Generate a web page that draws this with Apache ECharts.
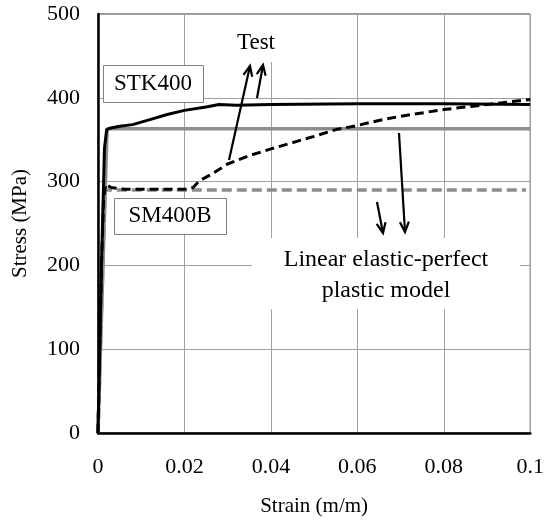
<!DOCTYPE html>
<html>
<head>
<meta charset="utf-8">
<script src="https://cdn.jsdelivr.net/npm/echarts@6/dist/echarts.min.js"></script>
<style>
html,body{margin:0;padding:0;background:#fff;}
#c{width:547px;height:522px;}
</style>
</head>
<body>
<div id="c"></div>
<script>
// Data (strain m/m, stress MPa)
const stkTest = [[0,0],[0.0008,200],[0.0015,340],[0.002,362],[0.003,364],[0.005,366],[0.008,368],[0.012,374],[0.016,380],[0.02,385],[0.025,389],[0.028,392],[0.032,391],[0.04,392],[0.06,393],[0.08,393],[0.1,392]];
const stkModel = [[0,0],[0.0021,363],[0.1,363]];
const smTest = [[0,0],[0.0008,200],[0.0013,280],[0.0018,297],[0.003,293],[0.006,291],[0.015,291],[0.021,291],[0.022,293],[0.0235,301],[0.026,308],[0.03,321],[0.035,331],[0.04,339],[0.046,348],[0.05,354],[0.055,362],[0.06,367],[0.065,373],[0.07,378],[0.08,386],[0.09,392],[0.1,398]];
const smModel = [[0,0],[0.0016,290],[0.099,290]];
const xTicks = [0,0.02,0.04,0.06,0.08,0.1];
const yTicks = [0,100,200,300,400,500];
const labels = {stk:'STK400', sm:'SM400B', test:'Test', model:['Linear elastic-perfect','plastic model']};

const FONT = '"Liberation Serif","Times New Roman",serif';
const chart = echarts.init(document.getElementById('c'));

function arrow(x1,y1,x2,y2){
  const a = Math.atan2(y2-y1,x2-x1), L=11, s=0.42;
  const p1=[x2-L*Math.cos(a-s), y2-L*Math.sin(a-s)];
  const p2=[x2-L*Math.cos(a+s), y2-L*Math.sin(a+s)];
  return [
    {type:'line',z:110,shape:{x1,y1,x2,y2},style:{stroke:'#000',lineWidth:2.2}},
    {type:'polyline',z:110,shape:{points:[p1,[x2,y2],p2]},style:{stroke:'#000',lineWidth:2.2,fill:null}}
  ];
}

const graphics = [
  {type:'rect',z:100,shape:{x:222,y:15,width:64,height:47},style:{fill:'#fff'}},
  {type:'text',z:101,x:256,y:43,style:{text:labels.test,font:'23px '+FONT,fill:'#000',align:'center',verticalAlign:'middle'}},
  {type:'rect',z:100,shape:{x:103.5,y:65.5,width:100,height:37},style:{fill:'#fff',stroke:'#808080',lineWidth:1}},
  {type:'text',z:101,x:153,y:84,style:{text:labels.stk,font:'23px '+FONT,fill:'#000',align:'center',verticalAlign:'middle'}},
  {type:'rect',z:100,shape:{x:114.5,y:198.5,width:112,height:36},style:{fill:'#fff',stroke:'#808080',lineWidth:1}},
  {type:'text',z:101,x:170,y:216,style:{text:labels.sm,font:'23px '+FONT,fill:'#000',align:'center',verticalAlign:'middle'}},
  {type:'rect',z:100,shape:{x:252,y:238,width:268,height:71},style:{fill:'#fff'}},
  {type:'text',z:101,x:386,y:260,style:{text:labels.model[0],font:'24px '+FONT,fill:'#000',align:'center',verticalAlign:'middle'}},
  {type:'text',z:101,x:386,y:291,style:{text:labels.model[1],font:'24px '+FONT,fill:'#000',align:'center',verticalAlign:'middle'}}
].concat(arrow(229,160,250,66), arrow(257,98,263,65), arrow(399,133,405,232), arrow(377,202,383,233));

chart.setOption({
  animation:false,
  backgroundColor:'#fff',
  grid:{left:98,right:12,top:14,bottom:86,show:true,borderColor:'#333',borderWidth:1,backgroundColor:'transparent'},
  xAxis:{type:'value',min:0,max:0.1,interval:0.02,
    name:'Strain (m/m)',nameLocation:'middle',nameGap:63,
    nameTextStyle:{fontFamily:FONT,fontSize:21,color:'#000'},
    axisLine:{show:true,onZero:false,lineStyle:{color:'#000',width:2.5}},
    axisTick:{show:false},
    axisLabel:{fontFamily:FONT,fontSize:22,color:'#000',margin:23,
      formatter:v=>{const t=xTicks.find(k=>Math.abs(k-v)<1e-9);return t===undefined?'':String(t);}},
    splitLine:{show:true,lineStyle:{color:'#a0a0a0',width:1}}
  },
  yAxis:{type:'value',min:0,max:500,interval:100,
    name:'Stress (MPa)',nameLocation:'middle',nameGap:67,
    nameTextStyle:{fontFamily:FONT,fontSize:21,color:'#000'},
    axisLine:{show:true,onZero:false,lineStyle:{color:'#000',width:2.5}},
    axisTick:{show:false},
    axisLabel:{fontFamily:FONT,fontSize:22,color:'#000',margin:18,
      formatter:v=>{const t=yTicks.find(k=>Math.abs(k-v)<1e-9);return t===undefined?'':String(t);}},
    splitLine:{show:true,lineStyle:{color:'#a0a0a0',width:1}}
  },
  graphic:graphics,
  series:[
    {type:'line',name:'STK400 model',data:stkModel,symbol:'none',z:3,lineStyle:{color:'#8c8c8c',width:3.5}},
    {type:'line',name:'SM400B model',data:smModel,symbol:'none',z:3,lineStyle:{color:'#8c8c8c',width:3.5,type:[10,5]}},
    {type:'line',name:'STK400 test',data:stkTest,symbol:'none',z:4,lineStyle:{color:'#000',width:3}},
    {type:'line',name:'SM400B test',data:smTest,symbol:'none',z:4,lineStyle:{color:'#000',width:3,type:[9,5]}}
  ]
});
</script>
</body>
</html>
